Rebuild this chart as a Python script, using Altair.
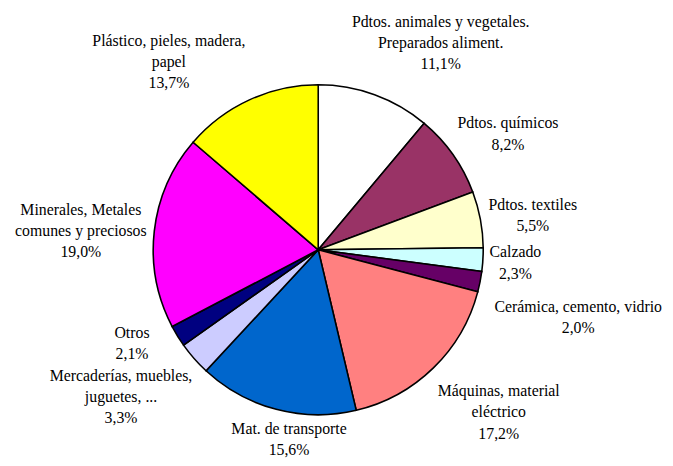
import altair as alt
import pandas as pd

# ---- data ----
categories = [
    "Pdtos. animales y vegetales. Preparados aliment.",
    "Pdtos. químicos",
    "Pdtos. textiles",
    "Calzado",
    "Cerámica, cemento, vidrio",
    "Máquinas, material eléctrico",
    "Mat. de transporte",
    "Mercaderías, muebles, juguetes, ...",
    "Otros",
    "Minerales, Metales comunes y preciosos",
    "Plástico, pieles, madera, papel",
]
label_lines = [
    "Pdtos. animales y vegetales.\nPreparados aliment.",
    "Pdtos. químicos",
    "Pdtos.  textiles",
    "Calzado",
    "Cerámica, cemento, vidrio",
    "Máquinas, material\neléctrico",
    "Mat. de transporte",
    "Mercaderías, muebles,\njuguetes, ...",
    "Otros",
    "Minerales, Metales\ncomunes y preciosos",
    "Plástico, pieles, madera,\npapel",
]
values = [11.1, 8.2, 5.5, 2.3, 2.0, 17.2, 15.6, 3.3, 2.1, 19.0, 13.7]
colors = ["#FFFFFF", "#993366", "#FFFFCC", "#CCFFFF", "#660066", "#FF8080",
          "#0066CC", "#CCCCFF", "#000080", "#FF00FF", "#FFFF00"]

# ---- label layout (manual placement, as in the original) ----
label_shift_deg = [10.7, 3.9, 1.5, 0.4, 3.5, -3.7, -6.0, 4.5, 4.8, -1.95, -13.8]
label_radius = [243, 225, 220, 200, 272, 246, 194, 249, 211, 241, 243]

CX, CY, R = 314, 242, 167
LH = 21.5
FONT = "Liberation Serif"

df = pd.DataFrame({
    "idx": list(range(len(categories))),
    "category": categories,
    "value": values,
    "label": [f"{l}\n{str(v).replace('.', ',')}%" for l, v in zip(label_lines, values)],
    "shift": label_shift_deg,
    "lr": label_radius,
})

base = alt.Chart(df)

pie = base.mark_arc(radius=R, stroke="black", strokeWidth=1.6).encode(
    theta=alt.Theta("value:Q", stack=True),
    order=alt.Order("idx:Q"),
    color=alt.Color("category:N", scale=alt.Scale(domain=categories, range=colors), legend=None),
    x=alt.value(CX),
    y=alt.value(CY),
)

labels = base.transform_joinaggregate(
    total="sum(value)"
).transform_window(
    cum="sum(value)", sort=[alt.SortField("idx")], frame=[None, 0]
).transform_calculate(
    ang="((datum.cum - datum.value/2) / datum.total * 360 + datum.shift) * PI / 180",
    nl="length(split(datum.label, '\\n'))",
).transform_calculate(
    lx=f"{CX} + datum.lr * sin(datum.ang)",
    ly=f"{CY} - datum.lr * cos(datum.ang) - (datum.nl - 1) * {LH} / 2",
).mark_text(
    font=FONT, fontSize=16,
    lineBreak="\n", lineHeight=LH,
    align="center", baseline="middle", color="black",
).encode(
    x=alt.X("lx:Q", scale=None),
    y=alt.Y("ly:Q", scale=None),
    text="label:N",
)

chart = alt.layer(pie, labels).properties(
    width=665, height=450, autosize="none", padding=0
).configure(font=FONT).configure_view(stroke=None)

chart.save("out.html", embed_options={"renderer": "svg", "actions": False})
